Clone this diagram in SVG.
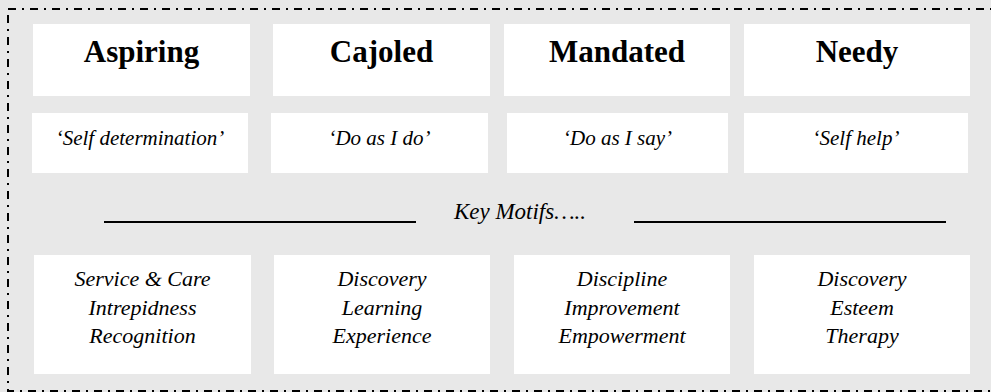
<svg xmlns="http://www.w3.org/2000/svg" width="991" height="392" viewBox="0 0 991 392">
  <style>
    .box { fill: #ffffff; }
    .title { font-family: "Liberation Serif", "DejaVu Serif", serif; font-weight: bold; font-size: 31px; fill: #000; text-anchor: middle; }
    .motto { font-family: "Liberation Serif", "DejaVu Serif", serif; font-style: italic; font-size: 21px; fill: #000; text-anchor: middle; }
    .motif { font-size: 22px; }
    .heading { font-size: 23px; }
    .rule { stroke: #000; stroke-width: 2.2; }
    .frame { fill: none; stroke: #000; stroke-width: 2; stroke-dasharray: 8 6 2 6; }
  </style>

  <!-- page background -->
  <rect x="0" y="0" width="991" height="392" fill="#e8e8e8"/>
  <!-- dash-dot frame, right side runs off the page -->
  <rect class="frame" x="8" y="9" width="1000" height="382"/>

  <!-- row 1: categories -->
  <g id="aspiring">
    <rect class="box" x="33" y="24" width="217" height="72"/>
    <text class="title" x="141.5" y="62">Aspiring</text>
  </g>
  <g id="cajoled">
    <rect class="box" x="273" y="24" width="217" height="72"/>
    <text class="title" x="381.5" y="62">Cajoled</text>
  </g>
  <g id="mandated">
    <rect class="box" x="504" y="24" width="226" height="72"/>
    <text class="title" x="617" y="62">Mandated</text>
  </g>
  <g id="needy">
    <rect class="box" x="744" y="24" width="226" height="72"/>
    <text class="title" x="857" y="62">Needy</text>
  </g>

  <!-- row 2: mottos -->
  <g id="self-determination">
    <rect class="box" x="32" y="113" width="216" height="60"/>
    <text class="motto" x="140" y="145">‘Self determination’</text>
  </g>
  <g id="do-as-i-do">
    <rect class="box" x="271" y="113" width="217" height="60"/>
    <text class="motto" x="379.5" y="145">‘Do as I do’</text>
  </g>
  <g id="do-as-i-say">
    <rect class="box" x="507" y="113" width="221" height="60"/>
    <text class="motto" x="617.5" y="145">‘Do as I say’</text>
  </g>
  <g id="self-help">
    <rect class="box" x="744" y="113" width="224" height="60"/>
    <text class="motto" x="856" y="145">‘Self help’</text>
  </g>

  <!-- divider with heading -->
  <g id="connectors">
    <line class="rule" x1="104" y1="222" x2="416" y2="222"/>
    <line class="rule" x1="634" y1="222" x2="946" y2="222"/>
  </g>
  <g id="key-motifs">
    <text class="motto heading" x="520" y="219">Key Motifs…..</text>
  </g>

  <!-- row 3: motifs -->
  <g id="motifs-aspiring">
    <rect class="box" x="34" y="255" width="217" height="119"/>
    <text class="motto motif" x="142.5" y="286">Service &amp; Care</text>
    <text class="motto motif" x="142.5" y="315">Intrepidness</text>
    <text class="motto motif" x="142.5" y="343">Recognition</text>
  </g>
  <g id="motifs-cajoled">
    <rect class="box" x="274" y="255" width="216" height="119"/>
    <text class="motto motif" x="382" y="286">Discovery</text>
    <text class="motto motif" x="382" y="315">Learning</text>
    <text class="motto motif" x="382" y="343">Experience</text>
  </g>
  <g id="motifs-mandated">
    <rect class="box" x="514" y="255" width="216" height="119"/>
    <text class="motto motif" x="622" y="286">Discipline</text>
    <text class="motto motif" x="622" y="315">Improvement</text>
    <text class="motto motif" x="622" y="343">Empowerment</text>
  </g>
  <g id="motifs-needy">
    <rect class="box" x="754" y="255" width="216" height="119"/>
    <text class="motto motif" x="862" y="286">Discovery</text>
    <text class="motto motif" x="862" y="315">Esteem</text>
    <text class="motto motif" x="862" y="343">Therapy</text>
  </g>
</svg>
